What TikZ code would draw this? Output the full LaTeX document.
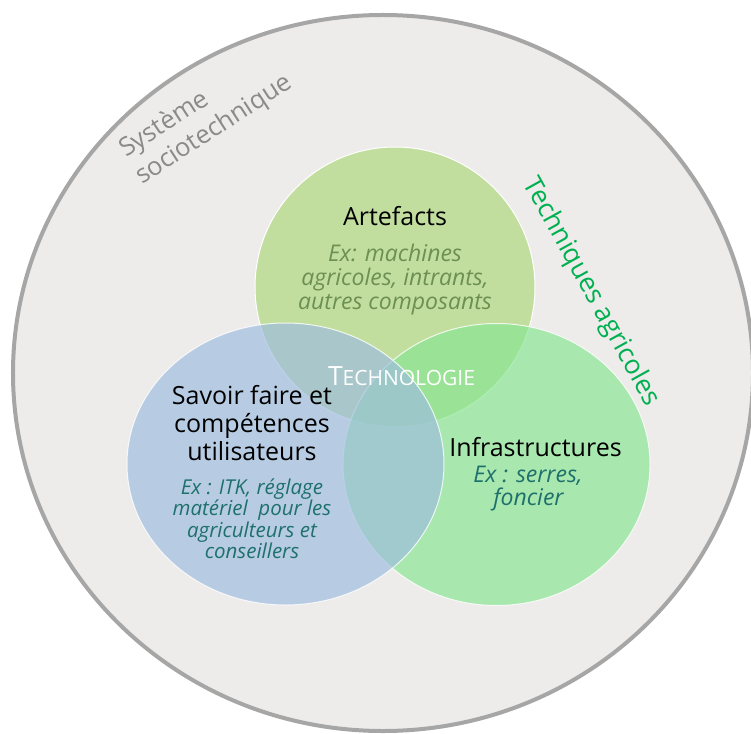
\documentclass[tikz,border=0pt]{standalone}
\usepackage{fontspec}
\setmainfont{Open Sans}
\usetikzlibrary{shapes.geometric}
\definecolor{sysfill}{RGB}{237,236,234}
\definecolor{sysline}{RGB}{166,166,166}
\definecolor{artfill}{RGB}{194,222,158}
\definecolor{infrafill}{RGB}{136,230,147}
\definecolor{savfill}{RGB}{158,189,224}
\definecolor{exgreen}{RGB}{108,143,84}
\definecolor{exteal}{RGB}{30,112,108}
\definecolor{techgreen}{RGB}{0,176,80}
\definecolor{sysgray}{RGB}{138,138,138}
\tikzset{
  setbox/.style={ellipse, draw=white, line width=1bp, inner sep=0pt},
  maintext/.style={font=\fontsize{25bp}{28bp}\selectfont, text=black, inner sep=0pt, anchor=base},
  exart/.style={font=\fontsize{23bp}{24bp}\selectfont\itshape, text=exgreen, inner sep=0pt, anchor=base},
  exsav/.style={font=\fontsize{20.5bp}{21bp}\selectfont\itshape, text=exteal, inner sep=0pt, anchor=base},
  exinf/.style={font=\fontsize{23bp}{24bp}\selectfont\itshape, text=exteal, inner sep=0pt, anchor=base},
  systext/.style={font=\fontsize{25.5bp}{28bp}\selectfont, text=sysgray, inner sep=0pt, anchor=base west, rotate=33}
}
\begin{document}
\begin{tikzpicture}[x=1bp,y=-1bp]
\useasboundingbox (0,0) rectangle (751,734);
% outer system
\node[ellipse, draw=sysline, fill=sysfill, line width=4bp, inner sep=0pt,
      minimum width=740bp, minimum height=716bp] (sys) at (383,373) {};
% three sets
\node[setbox, fill=artfill, minimum width=280bp, minimum height=280bp] (art) at (395,287) {};
\node[setbox, fill=infrafill, fill opacity=0.68, draw opacity=0.8,
      minimum width=307bp, minimum height=282bp] (inf) at (496.5,464.5) {};
\node[setbox, fill=savfill, fill opacity=0.68, draw opacity=0.8,
      minimum width=317bp, minimum height=282bp] (sav) at (285.5,464) {};
% Artefacts
\node[maintext] (artT) at (395,225) {Artefacts};
\node[exart] (artE1) at (395,261.5) {Ex: machines};
\node[exart] (artE2) at (395,285.5) {agricoles, intrants,};
\node[exart] (artE3) at (395,309.5) {autres composants};
% Savoir faire
\node[maintext] (savT1) at (252,404) {Savoir faire et};
\node[maintext] (savT2) at (252,432) {compétences};
\node[maintext] (savT3) at (252,460) {utilisateurs};
\node[exsav] (savE1) at (252,494) {Ex : ITK, réglage};
\node[exsav] (savE2) at (252,515.5) {matériel\ \ pour les};
\node[exsav] (savE3) at (252,537) {agriculteurs et};
\node[exsav] (savE4) at (252,558.5) {conseillers};
% Infrastructures
\node[maintext] (infT) at (535.5,456) {Infrastructures};
\node[exinf] (infE1) at (528,482) {Ex : serres,};
\node[exinf] (infE2) at (528.5,505) {foncier};
% Technologie
\node[inner sep=0pt, anchor=base, text=white] (techno) at (401.5,385)
  {{\fontsize{26.5bp}{26bp}\selectfont T}{\fontsize{21bp}{20bp}\selectfont ECHNOLOGIE}};
% Techniques agricoles
\node[inner sep=0pt, rotate=-61, text=techgreen, font=\fontsize{26.5bp}{28bp}\selectfont]
  (techag) at (591,292) {Techniques agricoles};
% Systeme sociotechnique
\node[systext] (sys1) at (126,158) {Système};
\node[systext] (sys2) at (142,185) {sociotechnique};
\end{tikzpicture}
\end{document}
